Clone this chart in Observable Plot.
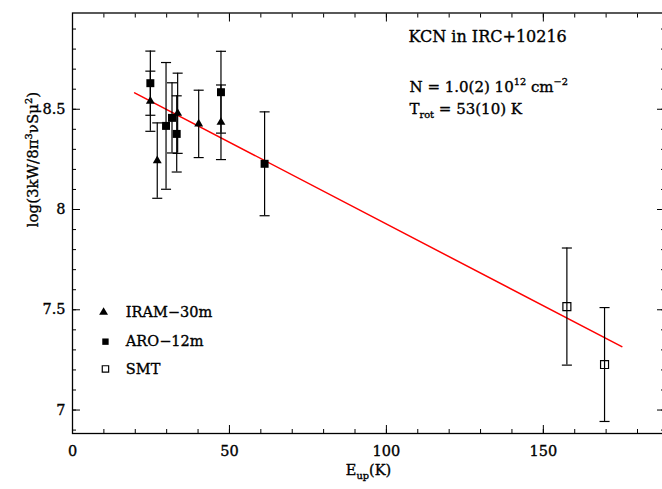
<!DOCTYPE html>
<html><head><meta charset="utf-8">
<script src="https://cdn.jsdelivr.net/npm/d3@7"></script>
<script src="https://cdn.jsdelivr.net/npm/@observablehq/plot@0.6"></script>
<style>
body{margin:0;background:#fff}
svg text{stroke:#000;stroke-width:0.35px;}
</style>
</head><body><div id="chart"></div>
<script>
// IRAM-30m (filled triangles)
const iramE   = [24.8, 27.0, 33.5, 40.2, 47.3];
const iramV   = [8.540, 8.244, 8.480, 8.427, 8.435];
const iramErr = [0.15, 0.188, 0.20, 0.168, 0.186];
// ARO-12m (filled squares)
const aroE   = [24.8, 29.8, 31.7, 33.2, 47.3, 61.2];
const aroV   = [8.630, 8.417, 8.457, 8.377, 8.585, 8.228];
const aroErr = [0.16, 0.316, 0.175, 0.19, 0.204, 0.259];
// SMT (open squares)
const smtE   = [157.5, 169.5];
const smtV   = [7.516, 7.227];
const smtErr = [0.292, 0.284];
// rotational-diagram fit
const fitE = [19.8, 175];
const fitV = [8.582, 7.316];
// ticks
const xMajor = [0, 50, 100, 150];
const xMinor = d3.range(0, 190, 10);
const yMajor = [7, 7.5, 8, 8.5];
const yMinor = d3.range(69, 90, 1).map(d => d / 10);
// texts
const legendLabels = ["IRAM\u221230m", "ARO\u221212m", "SMT"];
const titleText = "KCN in IRC+10216";
const nText = "N = 1.0(2) 10^{12} cm^{\u22122}";
const tText = "T_{rot} = 53(10) K";
const xLabel = "E_{up}(K)";
const yLabel = "log(3kW/8\u03c0^{3}\u03bdS\u03bc^{2})";

const series = (E, V, Err) => E.map((e, i) => ({E: e, v: V[i], lo: V[i] - Err[i], hi: V[i] + Err[i]}));
const iram = series(iramE, iramV, iramErr);
const aro = series(aroE, aroV, aroErr);
const smt = series(smtE, smtV, smtErr);
const all = [...iram, ...aro, ...smt];
const fit = fitE.map((e, i) => ({E: e, v: fitV[i]}));
const cap = 1.6;

const FONT = "DejaVu Serif";
const legendY = [7.4875, 7.341, 7.205];
const legendData = legendLabels.map((l, i) => ({label: l, v: legendY[i]}));

const plot = Plot.plot({
  width: 662, height: 489,
  marginLeft: 72, marginRight: -2, marginTop: 12.5, marginBottom: 56,
  style: {fontFamily: FONT, fontSize: "14px", background: "white", color: "black"},
  x: {domain: [0, 188.6]},
  y: {domain: [6.883, 8.98]},
  marks: [
    Plot.axisX(xMinor, {anchor: "bottom", tickSize: -4, tickFormat: () => "", label: null}),
    Plot.axisX(xMajor, {anchor: "bottom", tickSize: -8, tickPadding: 20, tickFormat: d => d, label: null, fontSize: 14.5}),
    Plot.axisX(xMinor, {anchor: "top", tickSize: -4, tickFormat: () => "", label: null}),
    Plot.axisX(xMajor, {anchor: "top", tickSize: -8, tickFormat: () => "", label: null}),
    Plot.axisY(yMinor, {anchor: "left", tickSize: -4, tickFormat: () => "", label: null}),
    Plot.axisY(yMajor, {anchor: "left", tickSize: -8, tickPadding: 15, tickFormat: d => String(d), label: null, fontSize: 14.5}),
    Plot.axisY(yMinor, {anchor: "right", tickSize: -4, tickFormat: () => "", label: null}),
    Plot.axisY(yMajor, {anchor: "right", tickSize: -8, tickFormat: () => "", label: null}),
    Plot.frame({stroke: "black", strokeWidth: 1.3}),
    // fit line
    Plot.line(fit, {x: "E", y: "v", stroke: "#ff0000", strokeWidth: 1.5}),
    // error bars
    Plot.ruleX(all, {x: "E", y1: "lo", y2: "hi", stroke: "black", strokeWidth: 1.2}),
    Plot.link(all, {x1: d => d.E - cap, x2: d => d.E + cap, y1: "lo", y2: "lo", stroke: "black", strokeWidth: 1.2}),
    Plot.link(all, {x1: d => d.E - cap, x2: d => d.E + cap, y1: "hi", y2: "hi", stroke: "black", strokeWidth: 1.2}),
    // markers
    Plot.dot(iram, {x: "E", y: "v", symbol: "triangle", fill: "black", r: 3.3}),
    Plot.dot(aro, {x: "E", y: "v", symbol: "square", fill: "black", r: 4.5}),
    Plot.dot(smt, {x: "E", y: "v", symbol: "square", fill: "none", stroke: "black", strokeWidth: 1.2, r: 4.5}),
    // legend
    Plot.dot([legendData[0]], {x: 9.9, y: "v", symbol: "triangle", fill: "black", r: 3.3}),
    Plot.dot([legendData[1]], {x: 10.5, y: "v", symbol: "square", fill: "black", r: 3.6}),
    Plot.dot([legendData[2]], {x: 10.5, y: "v", symbol: "square", fill: "none", stroke: "black", strokeWidth: 1.2, r: 3.6}),
    Plot.text(legendData, {x: 17, y: "v", text: "label", textAnchor: "start", fontSize: 14.5}),
    // annotations
    Plot.text([titleText], {frameAnchor: "top-left", text: d => d, textAnchor: "start", lineAnchor: "bottom", dx: 336, dy: 28.5, fontSize: 16}),
    Plot.text([nText], {frameAnchor: "top-left", text: d => d, textAnchor: "start", lineAnchor: "bottom", dx: 337, dy: 78.5, fontSize: 15}),
    Plot.text([tText], {frameAnchor: "top-left", text: d => d, textAnchor: "start", lineAnchor: "bottom", dx: 337, dy: 100.5, fontSize: 15}),
    // axis labels
    Plot.text([xLabel], {frameAnchor: "bottom", text: d => d, dy: 41, fontSize: 14.5}),
    Plot.text([yLabel], {frameAnchor: "left", text: d => d, rotate: -90, dx: -39, dy: 4, fontSize: 15})
  ]
});

// rich text: ^{...} superscript, _{...} subscript
function richify(svg) {
  d3.select(svg).selectAll("text").each(function () {
    const t = this.textContent;
    if (!/[\^_]\{/.test(t)) return;
    const fs = parseFloat(getComputedStyle(this).fontSize) || 14;
    const el = d3.select(this);
    el.text(null);
    const re = /(\^|_)\{([^}]*)\}/g;
    let last = 0, m, off = 0;
    const add = (s, shift, small) => {
      const dy = shift - off;
      const sp = el.append("tspan").text(s);
      if (dy) sp.attr("dy", dy);
      if (small) sp.attr("font-size", fs * 0.7);
      off = shift;
    };
    while ((m = re.exec(t))) {
      if (m.index > last) add(t.slice(last, m.index), 0, false);
      add(m[2], m[1] === "^" ? -0.45 * fs : 0.3 * fs, true);
      last = re.lastIndex;
    }
    if (last < t.length) add(t.slice(last), 0, false);
  });
}
richify(plot);
document.getElementById("chart").appendChild(plot);
</script>
</body></html>
